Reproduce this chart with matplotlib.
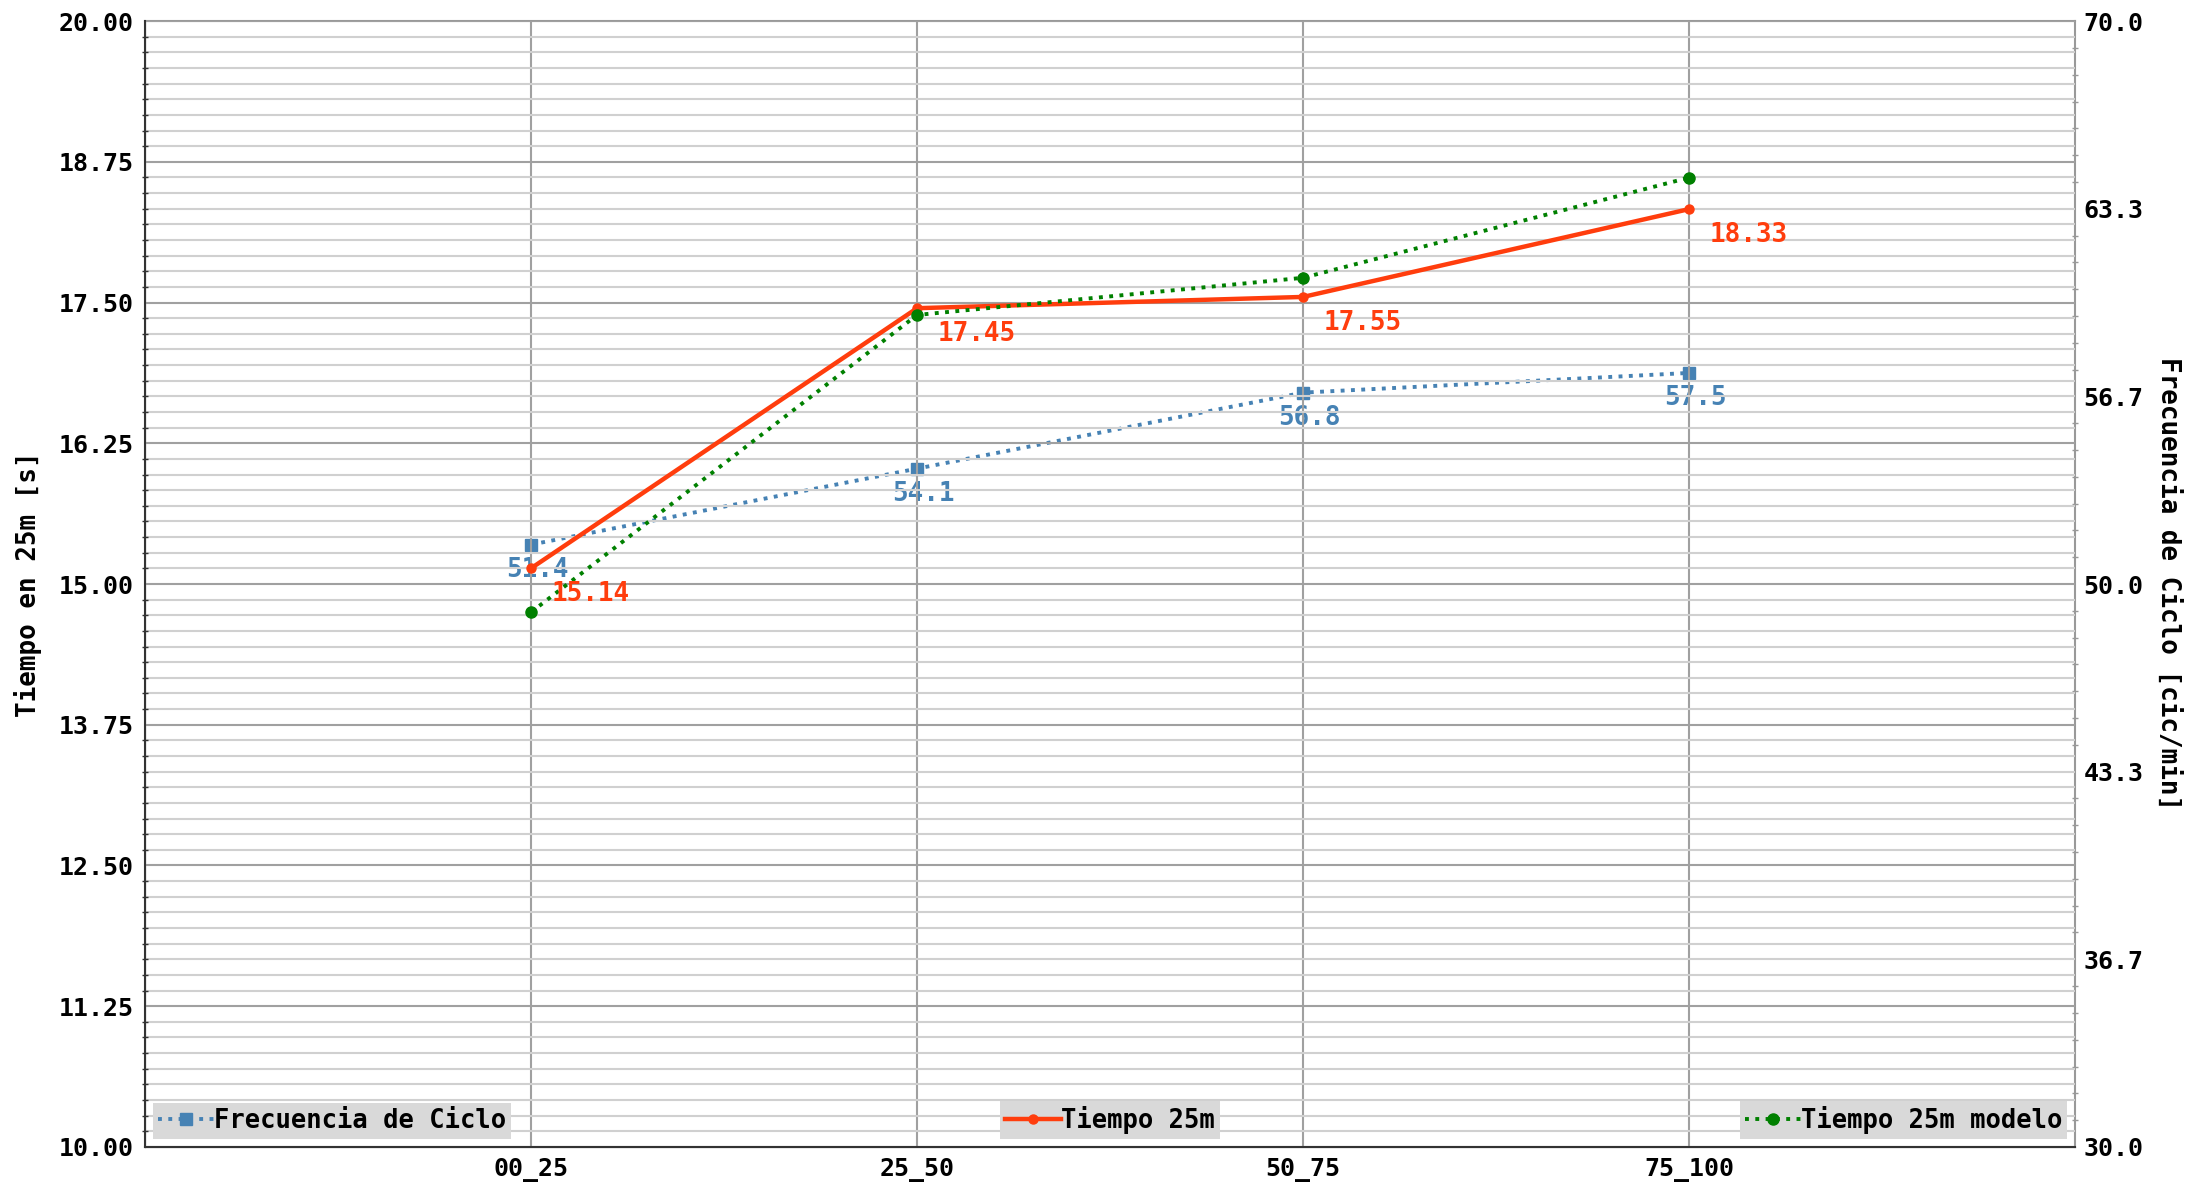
import numpy as np
import matplotlib
matplotlib.use('Agg')
import matplotlib.pyplot as plt
from matplotlib.ticker import FixedLocator

# datos
tramos = ['00_25', '25_50', '50_75', '75_100']
tiempo_25m = [15.14, 17.45, 17.55, 18.33]
tiempo_modelo = [14.75, 17.39, 17.72, 18.61]
frecuencia = [51.4, 54.1, 56.8, 57.5]

plt.rcParams['font.family'] = 'DejaVu Sans Mono'
plt.rcParams['font.weight'] = 'bold'
plt.rcParams['font.size'] = 18

rojo = '#ff3d0d'
azul = '#4682b4'
verde = '#008000'
fs = 18.7

fig = plt.figure(figsize=(22.12, 11.92), dpi=100)
ax = fig.add_axes([0.0656, 0.0378, 0.8725, 0.9445])
ax2 = ax.twinx()
ax.set_zorder(ax2.get_zorder() + 1)
ax.patch.set_visible(False)

x = np.arange(len(tramos))

# frecuencia en el eje derecho
l_frec, = ax2.plot(x, frecuencia, ':', color=azul, lw=2.8, marker='s', ms=8,
                   label='Frecuencia de Ciclo')
for xi, v in zip(x, frecuencia):
    ax2.annotate(f'{v}', (xi, v), xytext=(6, -12), textcoords='offset pixels',
                 ha='center', va='top', color=azul, fontsize=fs, fontweight='bold')

l_tiempo, = ax.plot(x, tiempo_25m, '-', color=rojo, lw=3.2, marker='o', ms=6.5,
                    label='Tiempo 25m')
l_modelo, = ax.plot(x, tiempo_modelo, ':', color=verde, lw=2.8, marker='o', ms=8,
                    label='Tiempo 25m modelo')
for xi, v in zip(x, tiempo_25m):
    ax.annotate(f'{v:.2f}', (xi, v), xytext=(21, -13), textcoords='offset pixels',
                ha='left', va='top', color=rojo, fontsize=fs, fontweight='bold')

# ejes
ax.set_xlim(-1, 4)
ax.set_xticks(x)
ax.set_xticklabels(tramos)
ax.set_ylim(10, 20)
ax.yaxis.set_major_locator(FixedLocator(np.linspace(10, 20, 9)))
ax.yaxis.set_minor_locator(FixedLocator(np.linspace(10, 20, 73)))
ax.set_yticklabels([f'{v:.2f}' for v in np.linspace(10, 20, 9)])
ax2.set_ylim(30, 70)
ax2.yaxis.set_major_locator(FixedLocator(np.linspace(30, 70, 7)))
ax2.yaxis.set_minor_locator(FixedLocator(np.linspace(30, 70, 43)))
ax2.set_yticklabels([f'{v:.1f}' for v in np.linspace(30, 70, 7)])

ax.set_ylabel('Tiempo en 25m [s]', fontsize=fs, fontweight='bold', labelpad=12)
ax2.set_ylabel('Frecuencia de Ciclo [cic/min]', fontsize=fs, fontweight='bold',
               rotation=270, labelpad=27)

ax.grid(True, which='major', color='#a0a0a0', lw=1.5)
ax.grid(True, which='minor', axis='y', color='#d0d0d0', lw=1.5)

ax.tick_params(which='major', length=0, pad=8)
ax.tick_params(axis='y', which='minor', length=4, width=1, color='#333333', direction='inout')
ax2.tick_params(which='major', length=0, pad=6)
ax2.tick_params(which='minor', length=5, width=1, color='#999999', direction='inout')

for s in ['top', 'right']:
    ax.spines[s].set_visible(False)
    ax2.spines[s].set_color('#999999')
    ax2.spines[s].set_linewidth(1.5)
for s in ['left', 'bottom']:
    ax.spines[s].set_color('#333333')
    ax.spines[s].set_linewidth(1.5)

# leyendas separadas
opts = dict(frameon=True, fancybox=False, borderaxespad=0.3, borderpad=0.2,
            handlelength=2.2, handletextpad=0.0, fontsize=18.4)
leg1 = ax.legend(handles=[l_frec], loc='lower left', **opts)
leg2 = ax.legend(handles=[l_tiempo], loc='lower center', **opts)
leg3 = ax.legend(handles=[l_modelo], loc='lower right', **opts)
for lg in (leg1, leg2, leg3):
    lg.get_frame().set_facecolor('#d9d9d9')
    lg.get_frame().set_edgecolor('none')
    lg.get_frame().set_alpha(1)
    ax.add_artist(lg)

fig.savefig('out.png', dpi=100)
